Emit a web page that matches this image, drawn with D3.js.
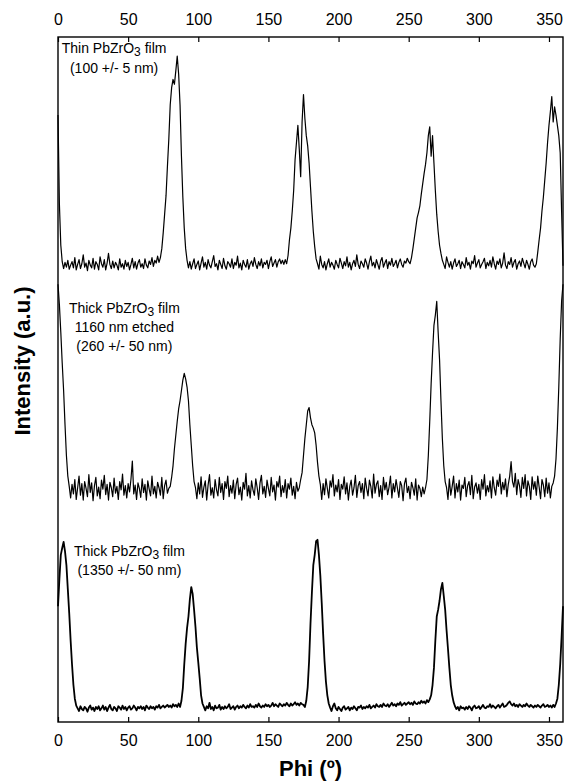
<!DOCTYPE html>
<html>
<head>
<meta charset="utf-8">
<script src="https://cdn.jsdelivr.net/npm/d3@7"></script>
<style>
  html, body { margin: 0; padding: 0; background: #fff; }
  svg { display: block; }
  text { font-family: "Liberation Sans", Arial, Helvetica, sans-serif; fill: #000; }
  .tick-lbl { font-size: 16px; }
  .note { font-size: 14px; }
  .ax-title { font-size: 22px; font-weight: bold; }
</style>
</head>
<body>
<svg id="chart"></svg>
<script>
// ── Data: phi scans, one value per degree (0..360), intensity above each trace's baseline (a.u.)
const PHI_STEP = 1;
const PHI_TICKS = [0, 50, 100, 150, 200, 250, 300, 350];

// Thin PbZrO3 film (100 +/- 5 nm)
const THIN_100 = [
  22, 9, 3, 0.6, -0.4, 0.5, -0.2, 0.8, -0.5, 0.1,
  0.6, -0.3, 1.2, -0.6, 0.2, 0.9, -0.4, 0.3, 1.6, -0.2,
  0.4, -0.7, 0.8, 0.1, -0.3, 1.1, -0.5, 0.6, 0.2, -0.6,
  1.3, 0.3, -0.2, 0.9, -0.6, 0.4, 1.8, 0.2, -0.4, 0.7,
  -0.3, 0.5, 0.1, -0.6, 1.0, -0.2, 0.3, -0.5, 0.8, -0.1,
  0.5, -0.6, 0.2, 1.1, -0.3, 0.6, -0.5, 0.4, 0.9, -0.2,
  0.3, -0.4, 1.0, 0.1, -0.3, 0.7, 0.2, 1.2, -0.1, 0.8,
  0.4, 1.4, 0.5, 1.2, 2.5, 4.8, 7.5, 10.2, 14.5, 18.5,
  23.5, 26, 27.2, 26.5, 28.5, 30.6, 28, 23.5, 16, 10,
  5.5, 2.5, 0.8, -0.3, 0.6, -0.5, 0.3, 1.0, -0.4, 0.2,
  0.7, -0.6, 0.4, 1.3, -0.2, 0.5, -0.5, 0.9, 0.1, -0.3,
  0.6, 1.5, -0.1, 0.3, -0.6, 0.8, 0.2, -0.4, 1.1, 0.0,
  -0.5, 0.6, 0.3, -0.2, 1.0, -0.4, 0.5, 0.1, 1.4, -0.3,
  0.4, -0.6, 0.8, 0.2, -0.2, 0.9, -0.5, 0.3, 0.7, -0.1,
  1.2, 0.2, -0.4, 0.6, 0.0, 1.0, -0.3, 0.5, 0.2, 0.8,
  -0.4, 0.6, 1.3, -0.1, 0.4, 0.9, -0.2, 0.6, 1.0, 0.3,
  0.8, 0.2, 0.9, 0.3, 1.5, 3.8, 5.5, 8, 11, 15.5,
  18, 20.5, 17, 13, 21, 25, 21.5, 19, 17.5, 15,
  11.5, 8, 5, 2.8, 1, 0.3, -0.5, 1.4, 0.2, -0.3,
  0.6, -0.6, 0.3, 1.0, -0.2, 0.5, 0.1, -0.5, 0.8, 0.2,
  -0.3, 1.1, 0.4, -0.4, 0.6, 0.0, 1.3, -0.2, 0.5, -0.6,
  0.3, 0.8, -0.1, 1.6, 0.2, -0.4, 0.7, 0.3, -0.2, 1.0,
  0.4, -0.5, 0.6, 1.4, 0.0, 0.5, -0.3, 0.9, 0.2, -0.5,
  0.7, 1.2, -0.2, 0.4, 0.9, -0.4, 0.6, 0.1, 1.1, -0.1,
  0.3, 0.8, -0.3, 0.5, 1.0, 0.2, -0.2, 0.7, 0.4, 1.1,
  0.6, 0.3, 1.2, 2.5, 4, 5.5, 7, 7.8, 8.8, 10.5,
  12, 13.5, 14.8, 16.5, 19, 20.3, 16, 19, 15, 11,
  7.5, 5, 3, 1.8, 0.8, 0.2, -0.4, 1.3, 0.5, -0.2,
  0.6, -0.5, 0.4, 1.0, -0.1, 0.3, 0.8, -0.4, 0.6, 0.2,
  -0.3, 1.2, 0.1, 0.5, -0.5, 0.7, 0.3, 1.5, -0.2, 0.4,
  0.9, -0.3, 0.2, 0.6, 1.1, -0.4, 0.5, 0.0, 0.8, -0.2,
  1.3, 0.3, -0.5, 0.7, 0.2, 1.0, -0.3, 0.4, 1.9, 0.1,
  -0.4, 0.6, 0.2, 1.2, -0.2, 0.5, 0.9, -0.5, 0.3, 0.7,
  -0.1, 1.1, 0.4, -0.3, 0.8, 0.2, -0.5, 0.6, 1.0, 0.1,
  -0.2, 0.3, 2, 3.8, 5.5, 8, 10, 12.5, 15, 18,
  20.5, 22.5, 24.7, 21, 23.2, 22, 20.5, 19, 16.5, 8,
  0
];

// Thick PbZrO3 film, 1160 nm etched (260 +/- 50 nm)
const ETCHED_260 = [
  30, 27, 23, 18.5, 14.5, 9.5, 5, 2, 0.5, -1.2,
  0.8, -0.6, 1.5, -1.4, 0.3, 2.0, -0.8, 0.9, -1.5, 1.2,
  0.2, -1.0, 2.2, -0.4, 1.0, -1.6, 0.6, 1.8, -0.9, 0.4,
  -1.3, 1.4, 0.1, 2.1, -0.7, 0.8, -1.5, 1.1, 0.3, -1.0,
  1.7, -0.5, 0.5, -1.4, 1.2, 0.0, 2.3, -0.8, 0.6, -1.2,
  0.9, -0.3, 1.5, 4.2, -0.6, 0.7, -1.4, 1.0, 0.2, -1.1,
  1.6, -0.4, 0.8, -1.5, 1.3, 0.1, -0.9, 2.0, -0.6, 0.5,
  -1.2, 1.1, 0.3, -0.8, 1.8, -1.3, 0.6, 1.4, -0.5, 0.2,
  0.5, 1.8, 3.5, 6, 8, 10, 11.8, 13, 14.5, 16,
  17, 16.2, 15, 13, 9.5, 6.5, 3.5, 1.2, 0.3, -1.3,
  1.0, -0.6, 1.9, -1.1, 0.4, 1.3, -1.5, 0.7, 2.2, -0.8,
  0.3, -1.2, 1.5, 0.0, -0.9, 1.8, -0.4, 0.9, -1.4, 1.2,
  0.2, 2.0, -1.0, 0.6, -0.5, 1.4, -1.3, 0.8, 1.7, -0.7,
  0.4, -1.5, 1.1, 0.1, 2.4, -0.9, 0.6, -1.2, 1.3, 0.0,
  -0.8, 1.6, 0.3, -1.4, 1.0, 2.1, -0.6, 0.5, -1.1, 1.4,
  0.2, -0.9, 1.8, -0.3, 0.7, -1.5, 1.2, 0.4, 2.0, -1.0,
  0.6, -0.4, 1.5, -1.2, 0.9, 0.1, 1.7, -0.8, 0.5, -1.3,
  1.1, -0.2, 0.3, 1.5, 2.5, 5, 7.5, 9.5, 11.5, 12,
  10.5, 9.5, 9, 8.3, 6.5, 4, 2, 0.8, -1.4, 0.9,
  -0.7, 1.6, 0.2, -1.2, 1.3, 0.4, 2.2, -0.9, 0.7, -0.3,
  1.5, -1.4, 0.8, 0.1, 1.9, -0.6, 1.0, -1.5, 0.5, 1.4,
  -0.8, 0.3, 2.1, -1.1, 0.6, 1.2, -0.4, 0.9, -1.3, 1.7,
  0.2, -0.9, 1.4, 0.5, -1.2, 2.3, -0.5, 0.8, 1.3, -1.0,
  0.6, -1.4, 1.8, 0.0, 1.1, -0.7, 0.4, 2.0, -1.2, 0.9,
  -0.3, 1.5, 0.2, -1.1, 1.2, 0.6, -1.6, 0.9, 1.7, -0.4,
  0.5, -1.3, 1.1, 0.3, -0.8, 1.6, -1.5, 0.7, 0.2, -1.0,
  0.4, -0.6, 0.3, 1.5, 5, 10, 15.5, 20, 24, 25.5,
  27.5, 23, 19, 13, 7.5, 3.5, 1.2, 0.3, -1.4, 1.6,
  -0.8, 0.5, 2.0, -1.2, 0.9, -0.3, 1.4, -1.5, 0.7, 0.2,
  1.8, -1.0, 0.6, 1.2, -0.7, 2.1, -1.3, 0.4, 1.0, -0.5,
  0.8, -1.4, 1.5, 0.1, 2.2, -0.9, 0.6, -0.3, 1.3, -1.2,
  1.9, 0.3, -0.8, 1.4, 0.5, 2.3, -0.6, 1.1, 0.0, 1.6,
  -1.0, 0.8, 2.0, 4.1, 1.2, 0.4, 2.4, -0.7, 1.5, 0.6,
  -1.1, 1.8, 0.2, 2.2, -0.9, 1.3, 0.5, -1.4, 1.9, 0.1,
  1.2, -0.8, 2.0, 0.4, -1.3, 1.5, 0.7, -1.0, 1.7, -0.5,
  1.0, -1.2, 0.5, 1.0, 2, 4.5, 9, 15, 22, 27.5,
  30
];

// Thick PbZrO3 film (1350 +/- 50 nm)
const THICK_1350 = [
  15, 19, 22.5, 23.5, 24.4, 23, 21, 17.5, 14, 10,
  6.5, 3.5, 1.5, 0.5, 0.1, -0.3, 0.4, 0.0, -0.2, 0.3,
  0.1, -0.4, 0.2, 0.5, -0.1, 0.2, -0.3, 0.3, 0.0, 0.4,
  -0.2, 0.1, 0.5, -0.1, 0.3, -0.3, 0.2, 0.6, 0.0, -0.2,
  0.3, 0.1, -0.3, 0.4, 0.2, -0.1, 0.5, 0.0, 0.3, -0.2,
  0.2, 0.4, -0.1, 0.1, 0.5, 0.2, -0.2, 0.3, 0.1, 0.4,
  0.0, 0.3, -0.2, 0.5, 0.2, 0.0, 0.4, 0.1, 0.3, -0.1,
  0.4, 0.2, 0.6, 0.1, 0.3, 0.5, 0.2, 0.4, 0.6, 0.3,
  0.5, 0.2, 0.7, 0.4, 0.6, 0.3, 0.8, 0.3, 1.2, 3,
  6.5, 9.5, 11.8, 13.5, 16, 17.8, 16.8, 14.5, 12, 9,
  6.8, 4.5, 2, 0.8, 0.3, -0.2, 0.4, 0.1, 0.9, 0.0,
  0.3, -0.2, 0.5, 0.1, 0.2, 0.6, -0.1, 0.3, 0.0, 0.4,
  0.1, 0.3, 0.7, 0.0, 0.2, 0.4, -0.1, 0.3, 0.5, 0.1,
  0.4, 0.2, 0.6, 0.3, 0.1, 0.5, 0.2, 0.7, 0.3, 0.4,
  0.2, 0.6, 0.3, 0.8, 0.4, 0.2, 0.5, 0.3, 0.7, 0.4,
  0.6, 0.3, 0.5, 0.9, 0.4, 0.7, 0.5, 0.3, 0.8, 0.6,
  0.4, 0.7, 0.5, 0.9, 0.6, 0.4, 0.8, 0.5, 0.7, 1.0,
  0.6, 0.8, 0.5, 0.9, 0.7, 0.6, 0.3, 1.2, 3.2, 7,
  12.5, 17, 21, 22.5, 24.5, 24.7, 22.5, 19.5, 15.5, 11,
  7, 4, 2, 0.8, 0.2, -0.3, 0.4, 0.8, 0.1, -0.2,
  0.3, 0.0, -0.3, 0.2, 0.4, -0.1, 0.1, 0.3, -0.2, 0.2,
  0.0, 0.4, 0.1, -0.2, 0.3, 0.2, 0.5, 0.0, 0.3, 0.1,
  0.4, 0.2, 0.6, 0.1, 0.3, 0.5, 0.2, 0.7, 0.4, 0.3,
  0.6, 0.3, 0.8, 0.5, 0.4, 0.7, 0.3, 0.6, 0.9, 0.5,
  0.7, 0.4, 0.8, 0.6, 1.0, 0.5, 0.7, 0.9, 0.6, 0.8,
  1.0, 0.7, 0.9, 0.6, 1.1, 0.8, 0.7, 1.0, 0.8, 1.2,
  0.9, 1.1, 0.8, 1.3, 1.0, 1.4, 2, 3.5, 6, 10,
  13.5, 14.5, 15.8, 17.5, 18.4, 16.5, 14.5, 11.5, 8.8, 6,
  3.5, 2, 1, 0.4, 0.0, 0.3, -0.2, 0.4, 0.1, 0.2,
  -0.1, 0.3, 0.0, 0.4, 0.2, -0.2, 0.3, 0.5, 0.1, 0.2,
  0.4, 0.0, 0.3, 0.6, 0.2, 0.1, 0.4, 0.3, 0.7, 0.2,
  0.5, 0.3, 0.1, 0.4, 0.6, 0.2, 0.5, 0.8, 0.3, 0.4,
  0.6, 0.9, 1.1, 0.7, 0.5, 0.8, 0.4, 0.6, 0.3, 0.7,
  0.5, 0.3, 0.6, 0.4, 0.8, 0.5, 0.3, 0.6, 0.4, 0.2,
  0.5, 0.3, 0.6, 0.4, 0.2, 0.5, 0.7, 0.3, 0.4, 0.6,
  0.3, 0.5, 0.2, 0.6, 0.3, 0.8, 1.5, 3.5, 6.5, 10.5,
  15
];

// vertical offset of each trace's baseline (a.u.)
const OFFSETS = [66.6, 33.9, 1.9];
const SERIES  = [THIN_100, ETCHED_260, THICK_1350];
const WIDTHS  = [1.2, 1.2, 1.8];

// annotation lines per trace (the "3" of PbZrO3 is set as a subscript)
const NOTES = [
  ["Thin PbZrO|3| film", "(100 +/- 5 nm)"],
  ["Thick PbZrO|3| film", "1160 nm etched", "(260 +/- 50 nm)"],
  ["Thick PbZrO|3| film", "(1350 +/- 50 nm)"]
];
const NOTE_POS = [
  { phi: 40,   top: 97.7, lh: 2.9 },
  { phi: 47.3, top: 59.7, lh: 2.75 },
  { phi: 50.9, top: 24.2, lh: 2.8 }
];

// ── Layout ──────────────────────────────────────────────────────────────────
const VW = 566, VH = 783;
const M  = { top: 37, right: 3, bottom: 61, left: 58 };
const W  = VW - M.left - M.right;
const H  = VH - M.top  - M.bottom;

const svg = d3.select("#chart").attr("width", VW).attr("height", VH);
const g   = svg.append("g").attr("transform", `translate(${M.left},${M.top})`);

const x = d3.scaleLinear().domain([0, 360]).range([0, W]);
const y = d3.scaleLinear().domain([0, 100]).range([H, 0]);

// ── Axes: ticks pointing inward, no y ticks ────────────────────────────────
const xBot = g.append("g").attr("transform", `translate(0,${H})`)
  .call(d3.axisBottom(x).tickValues(PHI_TICKS).tickSizeInner(-5).tickSizeOuter(0).tickPadding(13));
const xTop = g.append("g")
  .call(d3.axisTop(x).tickValues(PHI_TICKS).tickSizeInner(-5).tickSizeOuter(0).tickPadding(12));
[xBot, xTop].forEach(ax => {
  ax.select(".domain").remove();
  ax.selectAll(".tick line").attr("stroke", "#000").attr("stroke-width", 1.2);
  ax.selectAll(".tick text").attr("class", "tick-lbl").attr("font-family", null).attr("font-size", null);
});

// frame
g.append("rect")
  .attr("width", W).attr("height", H)
  .attr("fill", "none").attr("stroke", "#000").attr("stroke-width", 1.4);

// ── Traces ──────────────────────────────────────────────────────────────────
SERIES.forEach((vals, k) => {
  const line = d3.line()
    .x((d, i) => x(i * PHI_STEP))
    .y(d => y(OFFSETS[k] + d));
  g.append("path")
    .datum(vals)
    .attr("d", line)
    .attr("fill", "none")
    .attr("stroke", "#000")
    .attr("stroke-width", WIDTHS[k])
    .attr("stroke-linejoin", "round");
});

// ── Annotations ─────────────────────────────────────────────────────────────
NOTES.forEach((lines, k) => {
  const p = NOTE_POS[k];
  lines.forEach((s, j) => {
    const t = g.append("text").attr("class", "note")
      .attr("text-anchor", "middle")
      .attr("x", x(p.phi))
      .attr("y", y(p.top - j * p.lh));
    s.split("|").forEach((part, n) => {
      const ts = t.append("tspan").text(part);
      if (n === 1) ts.attr("dy", 3).attr("font-size", "12px");
      if (n === 2) ts.attr("dy", -3);
    });
  });
});

// ── Axis titles ─────────────────────────────────────────────────────────────
svg.append("text").attr("class", "ax-title")
  .attr("text-anchor", "middle")
  .attr("x", M.left + W / 2).attr("y", 776)
  .text("Phi (º)");

svg.append("text").attr("class", "ax-title")
  .attr("text-anchor", "middle")
  .attr("transform", "translate(30,361) rotate(-90)")
  .text("Intensity (a.u.)");
</script>
</body>
</html>
